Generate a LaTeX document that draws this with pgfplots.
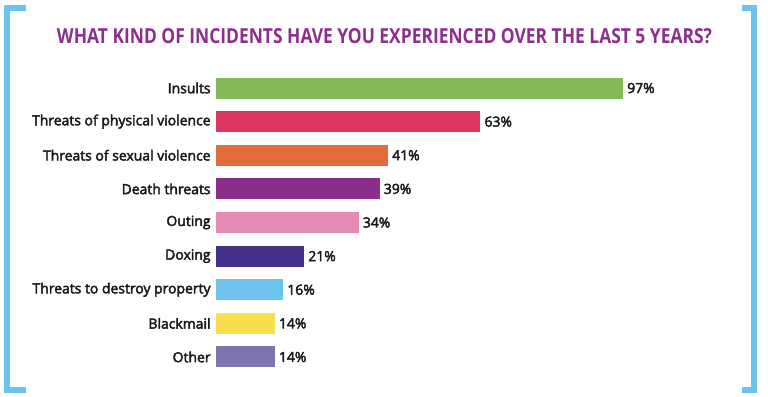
\documentclass[border=0pt]{standalone}
\usepackage{pgfplots}
\pgfplotsset{compat=1.18}
\usepackage{fontspec}
\setmainfont{Open Sans}
\newfontfamily\lab{Open Sans}[FakeBold=3]
\definecolor{cA}{HTML}{84B957}
\definecolor{cB}{HTML}{DC3560}
\definecolor{cC}{HTML}{E36D3A}
\definecolor{cD}{HTML}{8A2E8A}
\definecolor{cE}{HTML}{E38BB3}
\definecolor{cF}{HTML}{46318A}
\definecolor{cG}{HTML}{6DC3EC}
\definecolor{cH}{HTML}{F9DE4E}
\definecolor{cI}{HTML}{8074B0}
\definecolor{brk}{HTML}{6DC3EC}
\definecolor{titlec}{HTML}{8B2E8C}
\definecolor{txt}{HTML}{1A1A1A}
\begin{document}
\begin{tikzpicture}
\path[use as bounding box] (0bp,0bp) rectangle (768bp,-397bp);
\draw[brk, line width=6bp] (26bp,-8bp) -- (6.5bp,-8bp) -- (6.5bp,-390bp) -- (26bp,-390bp);
\draw[brk, line width=6bp] (742bp,-8bp) -- (754bp,-8bp) -- (754bp,-390bp) -- (742bp,-390bp);
\node[text=titlec, inner sep=0pt] at (384.5bp,-36bp) {\resizebox{655bp}{15bp}{\bfseries WHAT KIND OF INCIDENTS HAVE YOU EXPERIENCED OVER THE LAST 5 YEARS?}};
\begin{axis}[
  at={(216bp,-373.8bp)}, anchor=south west,
  scale only axis, width=419.6bp, height=302.6bp,
  xmin=0, xmax=100, ymin=-0.5, ymax=8.5, y dir=reverse,
  xbar, bar width=21bp, bar shift=0pt,
  axis line style={draw=none}, tick style={draw=none},
  xtick=\empty,
  ytick={0,1,2,3,4,5,6,7,8},
  yticklabels={Insults,Threats of physical violence,Threats of sexual violence,Death threats,Outing,Doxing,Threats to destroy property,Blackmail,Other},
  yticklabel style={font=\lab\fontsize{14}{16}\selectfont, text=txt, inner sep=0pt, xshift=-1bp},
  /pgf/number format/assume math mode=true,
  nodes near coords={\pgfmathprintnumber{\pgfplotspointmeta}\%},
  point meta=x,
  nodes near coords style={font=\lab\fontsize{14}{16}\selectfont, text=txt, anchor=west, inner sep=0pt, xshift=4bp},
  clip=false,
]
\addplot[fill=cA, draw=none] coordinates {(97,0)};
\addplot[fill=cB, draw=none] coordinates {(63,1)};
\addplot[fill=cC, draw=none] coordinates {(41,2)};
\addplot[fill=cD, draw=none] coordinates {(39,3)};
\addplot[fill=cE, draw=none] coordinates {(34,4)};
\addplot[fill=cF, draw=none] coordinates {(21,5)};
\addplot[fill=cG, draw=none] coordinates {(16,6)};
\addplot[fill=cH, draw=none] coordinates {(14,7)};
\addplot[fill=cI, draw=none] coordinates {(14,8)};
\end{axis}
\end{tikzpicture}
\end{document}
